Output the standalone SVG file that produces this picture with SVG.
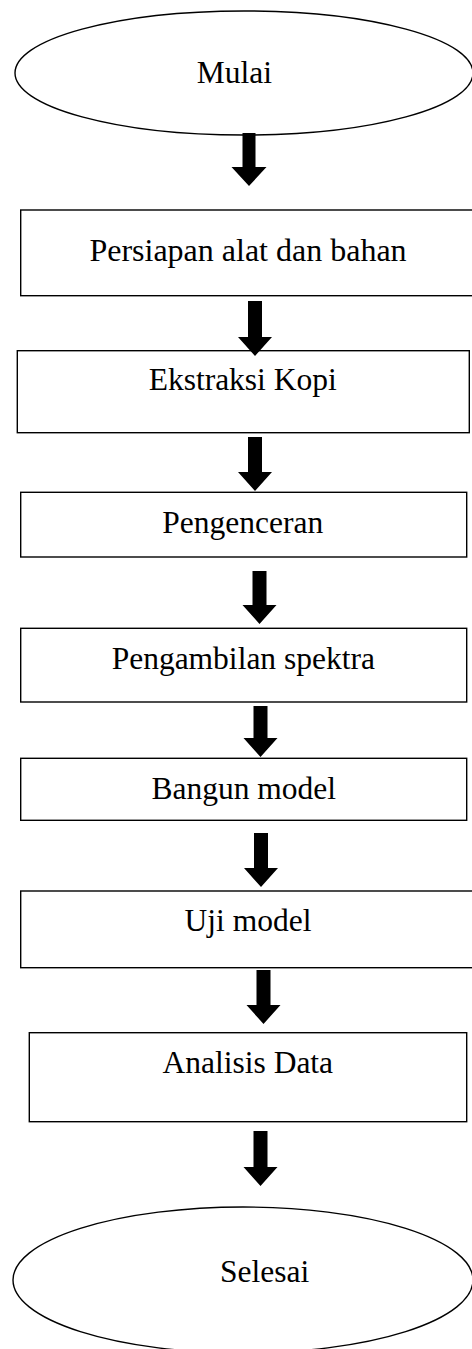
<svg xmlns="http://www.w3.org/2000/svg" width="472" height="1349" viewBox="0 0 472 1349">
<style>
.n{fill:#fff;stroke:#000;stroke-width:1.4}
.t{font-family:"Liberation Serif","Times New Roman",serif;font-size:31.5px;fill:#000;text-anchor:middle}
.a{fill:#000;stroke:none}
</style>
<rect width="472" height="1349" fill="#fff"/>
<g id="mulai"><ellipse class="n" cx="244" cy="73" rx="229" ry="62"/><text class="t" x="234.3" y="83">Mulai</text></g>
<g id="persiapan"><rect class="n" x="20.7" y="210" width="455" height="85.7"/><text class="t" x="248" y="261" style="font-size:32px">Persiapan alat dan bahan</text></g>
<g id="ekstraksi"><rect class="n" x="17.3" y="350.7" width="452" height="82"/><text class="t" x="242.7" y="390">Ekstraksi Kopi</text></g>
<g id="pengenceran"><rect class="n" x="20.7" y="492.3" width="446" height="64.7"/><text class="t" x="242.8" y="533">Pengenceran</text></g>
<g id="pengambilan"><rect class="n" x="20.7" y="628.3" width="446" height="73.7"/><text class="t" x="243.3" y="669">Pengambilan spektra</text></g>
<g id="bangun"><rect class="n" x="20.7" y="758.3" width="446" height="62"/><text class="t" x="243.7" y="799">Bangun model</text></g>
<g id="uji"><rect class="n" x="20.7" y="891" width="455" height="76.7"/><text class="t" x="248" y="931">Uji model</text></g>
<g id="analisis"><rect class="n" x="29.3" y="1032.7" width="437.4" height="89"/><text class="t" x="247.8" y="1073">Analisis Data</text></g>
<g id="selesai"><ellipse class="n" cx="243" cy="1280" rx="230" ry="73"/><text class="t" x="264.7" y="1282">Selesai</text></g>
<g id="connectors">
<path class="a" d="M242.5 133 H255.5 V167 H266.5 L249 186 L231.5 167 H242.5 Z"/>
<path class="a" d="M248 301 H262 V337 H272 L255 356 L238 337 H248 Z"/>
<path class="a" d="M248 437 H262 V472 H272 L255 491 L238 472 H248 Z"/>
<path class="a" d="M252.5 571 H266.5 V605 H276.5 L259.5 624 L242.5 605 H252.5 Z"/>
<path class="a" d="M253.5 706 H267.5 V738 H277.5 L260.5 757 L243.5 738 H253.5 Z"/>
<path class="a" d="M254 833 H268 V868 H278 L261 887 L244 868 H254 Z"/>
<path class="a" d="M256.5 970 H270.5 V1005 H280.5 L263.5 1024 L246.5 1005 H256.5 Z"/>
<path class="a" d="M253.5 1131 H267.5 V1167 H277.5 L260.5 1186 L243.5 1167 H253.5 Z"/>
</g>
</svg>
